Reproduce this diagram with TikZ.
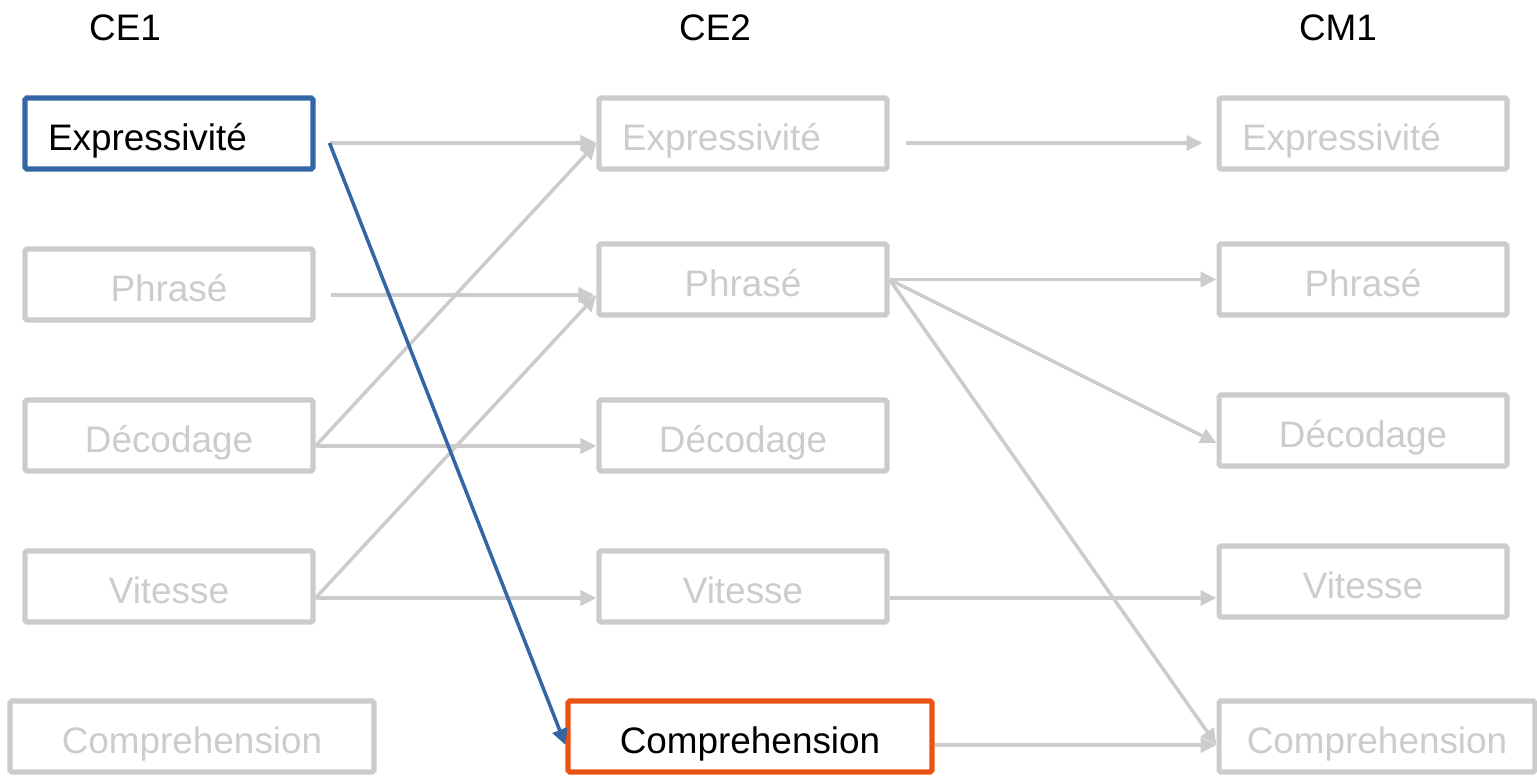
\documentclass[tikz,border=0pt]{standalone}
\usepackage{fontspec}
\setmainfont{Liberation Sans}
\usepackage{xcolor}
\usetikzlibrary{arrows.meta}

\definecolor{lgray}{RGB}{204,204,204}
\definecolor{hblue}{RGB}{52,101,164}
\definecolor{horange}{RGB}{233,84,20}

\begin{document}
\begin{tikzpicture}[x=0.02cm, y=-0.02cm,
      every node/.style={font=\fontsize{21}{25}\selectfont},
      box/.style={draw=lgray, line width=2.9pt, rounded corners=1pt,
         minimum height=1.42cm, inner sep=0pt, align=center,
         text height=20pt, text depth=1.2pt,
         text width=5.76cm, text=lgray},
      leftbox/.style={box, align=left, text width=4.84cm, inner xsep=0.46cm},
      widebox/.style={box, text width=7.28cm},
      link/.style={draw=lgray, line width=2pt,
         -{Triangle[length=0.32cm, width=0.3cm]}},
      hlink/.style={link, draw=hblue, fill=hblue}]
      \useasboundingbox (0,0) rectangle (1537,776);

      % column headers
      \node (ce1) at (125,28) {CE1};
      \node (ce2) at (715,28) {CE2};
      \node (cm1) at (1338,28) {CM1};

      % CE1
      \node (e1) at (169,133.5) [leftbox, draw=hblue, text=black] {Expressivité};
      \node (p1) at (169,284.5) [box] {Phrasé};
      \node (d1) at (169,435.5) [box] {Décodage};
      \node (v1) at (169,586.5) [box] {Vitesse};
      \node (c1) at (192,736.5) [widebox] {Comprehension};

      % CE2
      \node (e2) at (743,133.5) [leftbox] {Expressivité};
      \node (p2) at (743,279.5) [box] {Phrasé};
      \node (d2) at (743,435.5) [box] {Décodage};
      \node (v2) at (743,586.5) [box] {Vitesse};
      \node (c2) at (750,736.5) [widebox, draw=horange, text=black] {Comprehension};

      % CM1
      \node (e3) at (1363,133.5) [leftbox] {Expressivité};
      \node (p3) at (1363,279.5) [box] {Phrasé};
      \node (d3) at (1363,430.5) [box] {Décodage};
      \node (v3) at (1363,581.5) [box] {Vitesse};
      \node (c3) at (1377,736.5) [box, text width=6.32cm] {Comprehension};

      % CE1 -> CE2
      \draw [link] ([shift={(14,9.5)}]e1.east) -- ([shift={(0,9.5)}]e2.west);
      \draw [link] ([shift={(15,10.5)}]p1.east) -- ([shift={(-2,15.5)}]p2.west);
      \draw [link] ([shift={(0,10.5)}]d1.east) -- ([shift={(0,10.5)}]d2.west);
      \draw [link] ([shift={(0,10.5)}]d1.east) -- ([shift={(0,9.5)}]e2.west);
      \draw [link] ([shift={(0,11.5)}]v1.east) -- ([shift={(0,11.5)}]v2.west);
      \draw [link] ([shift={(0,11.5)}]v1.east) -- ([shift={(0,15.5)}]p2.west);
      \draw [hlink] ([shift={(14,9.5)}]e1.east) -- ([shift={(0,8.5)}]c2.west);

      % CE2 -> CM1
      \draw [link] ([shift={(16,9.5)}]e2.east) -- ([shift={(-14,9.5)}]e3.west);
      \draw [link] (p2.east) -- (p3.west);
      \draw [link] (p2.east) -- ([shift={(0,12.5)}]d3.west);
      \draw [link] (p2.east) -- ([shift={(0,8.5)}]c3.west);
      \draw [link] ([shift={(0,11.5)}]v2.east) -- ([shift={(0,16.5)}]v3.west);
      \draw [link] ([shift={(0,8.5)}]c2.east) -- ([shift={(0,8.5)}]c3.west);
   \end{tikzpicture}
\end{document}
